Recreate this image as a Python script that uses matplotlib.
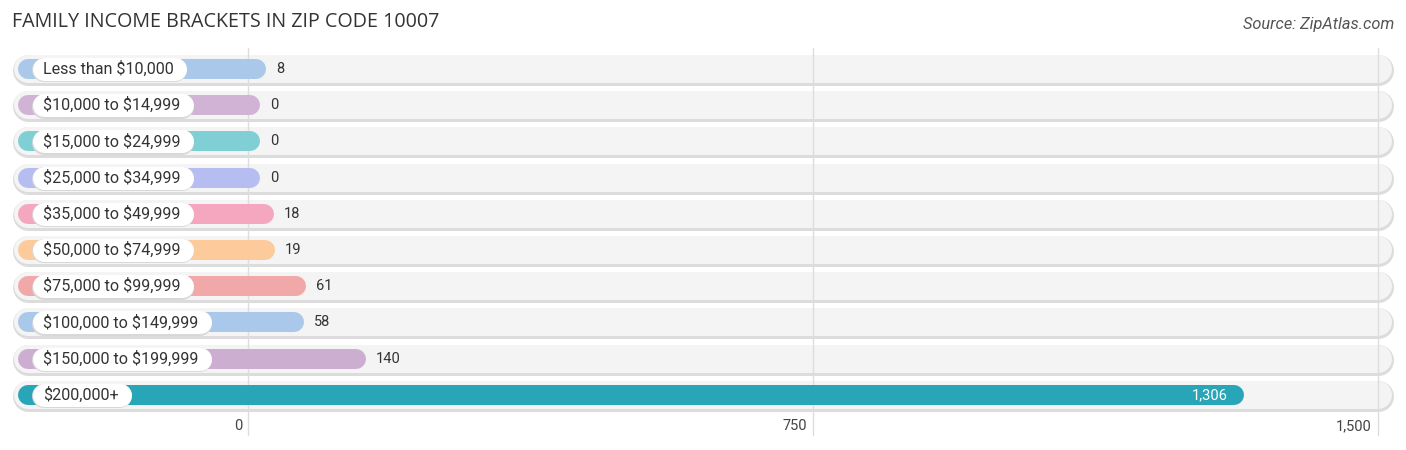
import matplotlib
matplotlib.use("Agg")
import matplotlib.pyplot as plt
from matplotlib.transforms import offset_copy

# data
brackets = ["Less than $10,000", "$10,000 to $14,999", "$15,000 to $24,999",
            "$25,000 to $34,999", "$35,000 to $49,999", "$50,000 to $74,999",
            "$75,000 to $99,999", "$100,000 to $149,999", "$150,000 to $199,999",
            "$200,000+"]
families = [8, 0, 0, 0, 18, 19, 61, 58, 140, 1306]
colors = ["#a9c8ea", "#d1b3d6", "#7fcfd4", "#b6bdf0", "#f5a7c0",
          "#fdca9b", "#f0a9a8", "#a9c8ea", "#ccaed1", "#28a6b8"]
ticks = [0, 750, 1500]
tick_labels = ["0", "750", "1,500"]

plt.rcParams["font.family"] = ["Roboto", "DejaVu Sans"]

W, H, DPI = 1406, 450, 100
fig = plt.figure(figsize=(W / DPI, H / DPI), dpi=DPI)
ax = fig.add_axes([0, 0, 1, 1])
ax.axis("off")

# pixel layout: x px = 248 + 0.7533*value, row i centre at 69 + 36.2*i px
sx = 565 / 750.0
x0px, y0px, dy = 248, 69, 36.2
ax.set_xlim(-x0px / sx, (W - x0px) / sx)
ax.set_ylim((H - y0px) / dy, -y0px / dy)

pt = 72.0 / DPI  # points per pixel
left = (28 - x0px) / sx

# grid lines
for t in ticks:
    ax.plot([t, t], [(48 - y0px) / dy, (435 - y0px) / dy], color="#dddddd",
            lw=1, zorder=2)

for i, (lab, v, c) in enumerate(zip(brackets, families, colors)):
    # row background pill
    ax.plot([left, 1500], [i + 0.03, i + 0.03], color="#dcdcdc", lw=31 * pt,
            solid_capstyle="round", zorder=1)
    ax.plot([left, 1500], [i, i], color="#f4f4f4", lw=28 * pt,
            solid_capstyle="round", zorder=1.5)
    # bar
    ax.plot([left, v + 3], [i, i], color=c, lw=20 * pt,
            solid_capstyle="round", zorder=3)
    # value label
    if v > 1000:
        tr = offset_copy(ax.transData, fig=fig, x=-4, y=0, units="dots")
        ax.text(v, i, f"{v:,}", transform=tr, ha="right", va="center",
                fontsize=10.5, color="white", zorder=6)
    else:
        tr = offset_copy(ax.transData, fig=fig, x=22, y=0, units="dots")
        ax.text(v, i, f"{v:,}", transform=tr, ha="left", va="center",
                fontsize=10.5, color="#333333", zorder=6)

# category label pills
fig.canvas.draw()
renderer = fig.canvas.get_renderer()
for i, lab in enumerate(brackets):
    tx = ax.text((43 - x0px) / sx, i, lab, ha="left", va="center",
                 fontsize=11.6, color="#333333", zorder=6, parse_math=False)
    bb = tx.get_window_extent(renderer=renderer)
    r = 11.5
    pl = (32 + r - x0px) / sx
    pr = (bb.x1 + 13 - r - x0px) / sx
    ax.plot([pl, pr], [i + 0.04, i + 0.04], color="#d8d8d8", lw=24 * pt,
            solid_capstyle="round", zorder=4)
    ax.plot([pl, pr], [i, i], color="white", lw=23 * pt,
            solid_capstyle="round", zorder=5)

# tick labels
tr = offset_copy(ax.transData, fig=fig, x=-6, y=0, units="dots")
for t, tl in zip(ticks, tick_labels):
    ax.text(t, (426 - y0px) / dy, tl, transform=tr, ha="right", va="center",
            fontsize=10.5, color="#444444")

fig.text(12 / W, 1 - 22 / H, "FAMILY INCOME BRACKETS IN ZIP CODE 10007",
         ha="left", va="center", fontsize=14.2, color="#333333",
         family=["Open Sans", "DejaVu Sans"])
fig.text(1394 / W, 1 - 24 / H, "Source: ZipAtlas.com", ha="right",
         va="center", fontsize=11.8, style="italic", color="#555555")

fig.savefig("out.png", dpi=DPI)
